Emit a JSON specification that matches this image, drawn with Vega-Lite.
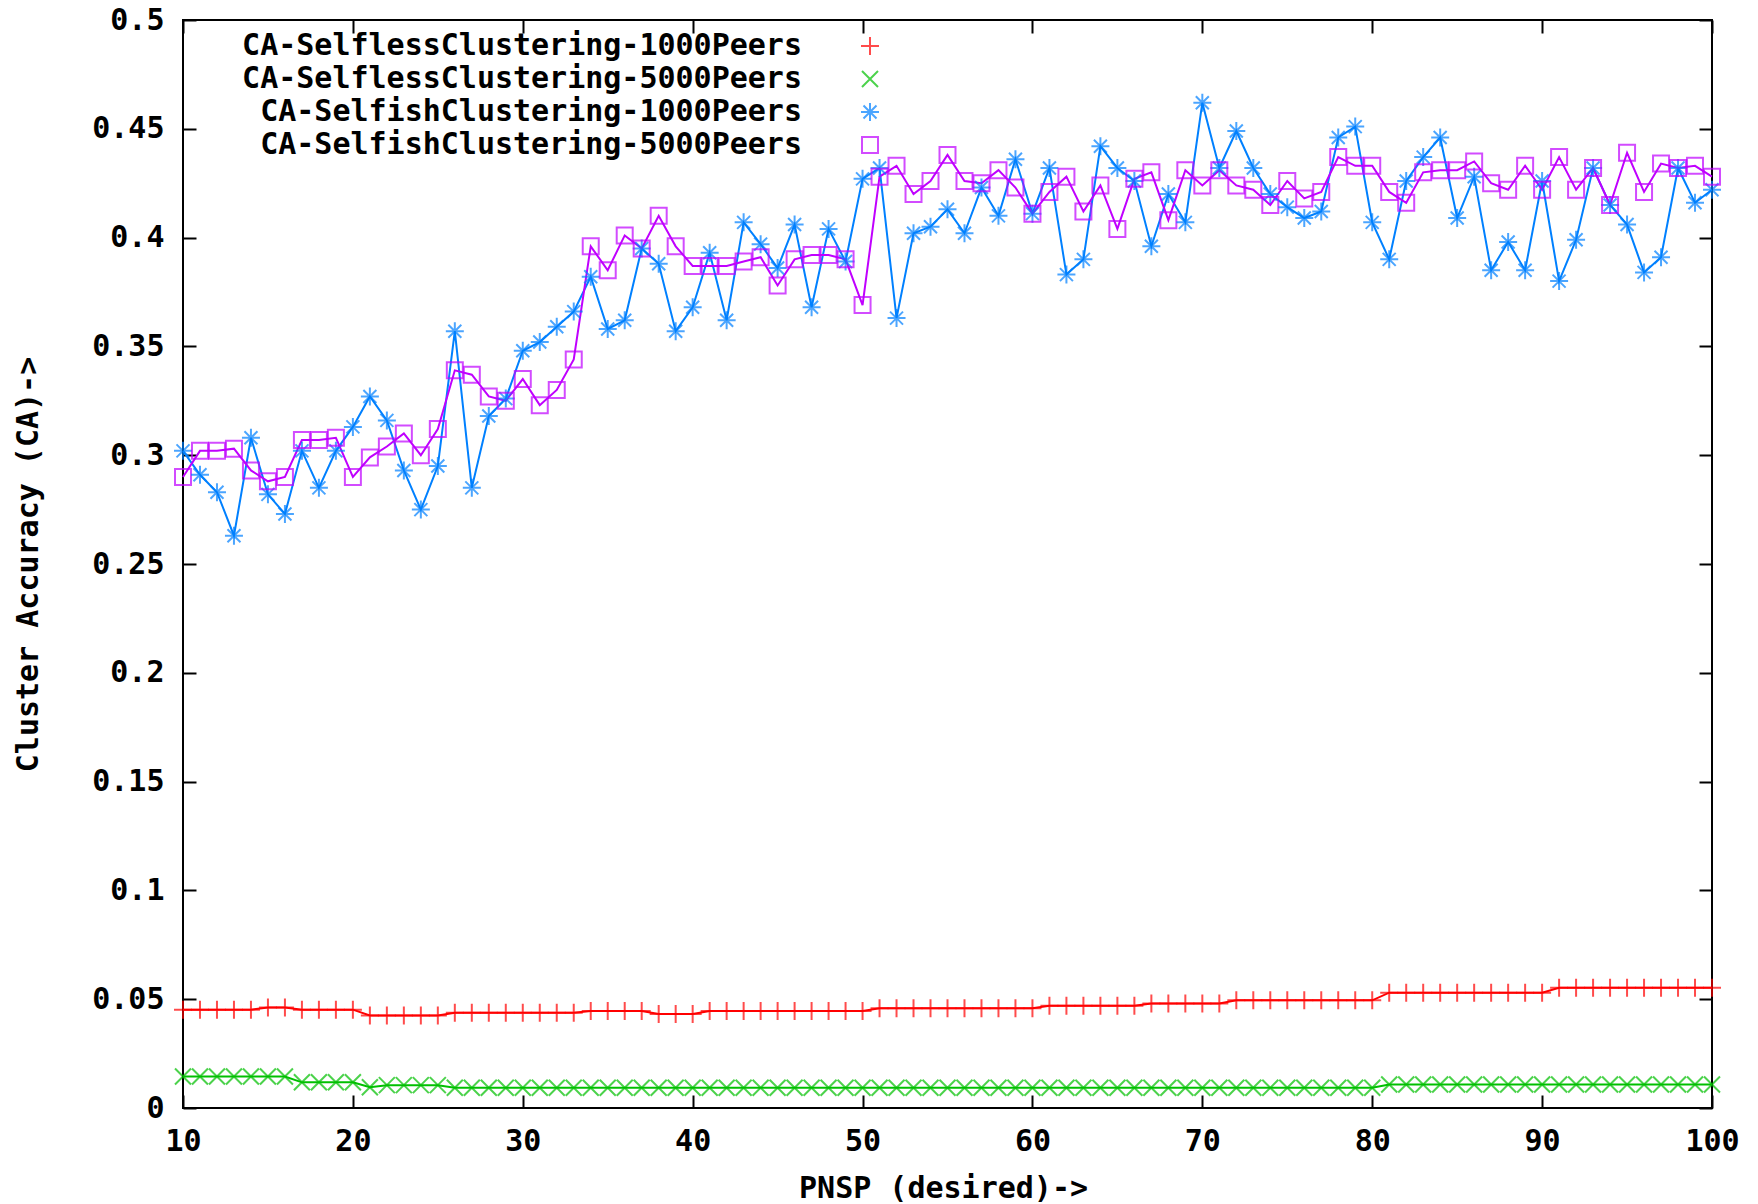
{
  "$schema": "https://vega.github.io/schema/vega-lite/v6.json",
  "width": 1529,
  "height": 1088,
  "autosize": {"type": "none"},
  "padding": {"left": 183, "top": 20, "right": 46, "bottom": 96},
  "background": "white",
  "config": {
    "view": {"stroke": "#000", "strokeWidth": 2},
    "font": "DejaVu Sans Mono"
  },
  "data": {
    "values": [
      {"x": 10, "r": 0.0452, "g": 0.0145, "b": 0.302, "m": 0.290},
      {"x": 11, "r": 0.0452, "g": 0.0145, "b": 0.291, "m": 0.302},
      {"x": 12, "r": 0.0452, "g": 0.0145, "b": 0.283, "m": 0.302},
      {"x": 13, "r": 0.0452, "g": 0.0145, "b": 0.263, "m": 0.303},
      {"x": 14, "r": 0.0452, "g": 0.0145, "b": 0.308, "m": 0.293},
      {"x": 15, "r": 0.0462, "g": 0.0145, "b": 0.282, "m": 0.288},
      {"x": 16, "r": 0.0462, "g": 0.0145, "b": 0.273, "m": 0.290},
      {"x": 17, "r": 0.0452, "g": 0.0118, "b": 0.302, "m": 0.307},
      {"x": 18, "r": 0.0452, "g": 0.0118, "b": 0.285, "m": 0.307},
      {"x": 19, "r": 0.0452, "g": 0.0118, "b": 0.302, "m": 0.308},
      {"x": 20, "r": 0.0452, "g": 0.0118, "b": 0.313, "m": 0.290},
      {"x": 21, "r": 0.0425, "g": 0.0095, "b": 0.327, "m": 0.299},
      {"x": 22, "r": 0.0425, "g": 0.0105, "b": 0.316, "m": 0.304},
      {"x": 23, "r": 0.0425, "g": 0.0105, "b": 0.293, "m": 0.310},
      {"x": 24, "r": 0.0425, "g": 0.0105, "b": 0.275, "m": 0.300},
      {"x": 25, "r": 0.0425, "g": 0.0105, "b": 0.295, "m": 0.312},
      {"x": 26, "r": 0.0438, "g": 0.0093, "b": 0.357, "m": 0.339},
      {"x": 27, "r": 0.0438, "g": 0.0093, "b": 0.285, "m": 0.337},
      {"x": 28, "r": 0.0438, "g": 0.0093, "b": 0.318, "m": 0.327},
      {"x": 29, "r": 0.0438, "g": 0.0093, "b": 0.326, "m": 0.325},
      {"x": 30, "r": 0.0438, "g": 0.0093, "b": 0.348, "m": 0.335},
      {"x": 31, "r": 0.0438, "g": 0.0093, "b": 0.352, "m": 0.323},
      {"x": 32, "r": 0.0438, "g": 0.0093, "b": 0.359, "m": 0.330},
      {"x": 33, "r": 0.0438, "g": 0.0093, "b": 0.366, "m": 0.344},
      {"x": 34, "r": 0.0446, "g": 0.0093, "b": 0.382, "m": 0.396},
      {"x": 35, "r": 0.0446, "g": 0.0093, "b": 0.358, "m": 0.385},
      {"x": 36, "r": 0.0446, "g": 0.0093, "b": 0.362, "m": 0.401},
      {"x": 37, "r": 0.0446, "g": 0.0093, "b": 0.395, "m": 0.395},
      {"x": 38, "r": 0.0432, "g": 0.0093, "b": 0.388, "m": 0.410},
      {"x": 39, "r": 0.0432, "g": 0.0093, "b": 0.357, "m": 0.396},
      {"x": 40, "r": 0.0432, "g": 0.0093, "b": 0.368, "m": 0.387},
      {"x": 41, "r": 0.0446, "g": 0.0093, "b": 0.393, "m": 0.387},
      {"x": 42, "r": 0.0446, "g": 0.0093, "b": 0.362, "m": 0.387},
      {"x": 43, "r": 0.0446, "g": 0.0093, "b": 0.407, "m": 0.389},
      {"x": 44, "r": 0.0446, "g": 0.0093, "b": 0.397, "m": 0.391},
      {"x": 45, "r": 0.0446, "g": 0.0093, "b": 0.386, "m": 0.378},
      {"x": 46, "r": 0.0446, "g": 0.0093, "b": 0.406, "m": 0.390},
      {"x": 47, "r": 0.0446, "g": 0.0093, "b": 0.368, "m": 0.392},
      {"x": 48, "r": 0.0446, "g": 0.0093, "b": 0.404, "m": 0.392},
      {"x": 49, "r": 0.0446, "g": 0.0093, "b": 0.389, "m": 0.390},
      {"x": 50, "r": 0.0446, "g": 0.0093, "b": 0.427, "m": 0.369},
      {"x": 51, "r": 0.0458, "g": 0.0093, "b": 0.432, "m": 0.428},
      {"x": 52, "r": 0.0458, "g": 0.0093, "b": 0.363, "m": 0.433},
      {"x": 53, "r": 0.0458, "g": 0.0093, "b": 0.402, "m": 0.420},
      {"x": 54, "r": 0.0458, "g": 0.0093, "b": 0.405, "m": 0.426},
      {"x": 55, "r": 0.0458, "g": 0.0093, "b": 0.413, "m": 0.438},
      {"x": 56, "r": 0.0458, "g": 0.0093, "b": 0.402, "m": 0.426},
      {"x": 57, "r": 0.0458, "g": 0.0093, "b": 0.423, "m": 0.425},
      {"x": 58, "r": 0.0458, "g": 0.0093, "b": 0.410, "m": 0.431},
      {"x": 59, "r": 0.0458, "g": 0.0093, "b": 0.436, "m": 0.423},
      {"x": 60, "r": 0.0458, "g": 0.0093, "b": 0.411, "m": 0.411},
      {"x": 61, "r": 0.0470, "g": 0.0093, "b": 0.432, "m": 0.421},
      {"x": 62, "r": 0.0470, "g": 0.0093, "b": 0.383, "m": 0.428},
      {"x": 63, "r": 0.0470, "g": 0.0093, "b": 0.390, "m": 0.412},
      {"x": 64, "r": 0.0470, "g": 0.0093, "b": 0.442, "m": 0.424},
      {"x": 65, "r": 0.0470, "g": 0.0093, "b": 0.432, "m": 0.404},
      {"x": 66, "r": 0.0470, "g": 0.0093, "b": 0.426, "m": 0.427},
      {"x": 67, "r": 0.0480, "g": 0.0093, "b": 0.396, "m": 0.430},
      {"x": 68, "r": 0.0480, "g": 0.0093, "b": 0.420, "m": 0.408},
      {"x": 69, "r": 0.0480, "g": 0.0093, "b": 0.407, "m": 0.431},
      {"x": 70, "r": 0.0480, "g": 0.0093, "b": 0.462, "m": 0.424},
      {"x": 71, "r": 0.0480, "g": 0.0093, "b": 0.432, "m": 0.431},
      {"x": 72, "r": 0.0495, "g": 0.0093, "b": 0.449, "m": 0.424},
      {"x": 73, "r": 0.0495, "g": 0.0093, "b": 0.432, "m": 0.422},
      {"x": 74, "r": 0.0495, "g": 0.0093, "b": 0.420, "m": 0.415},
      {"x": 75, "r": 0.0495, "g": 0.0093, "b": 0.414, "m": 0.426},
      {"x": 76, "r": 0.0495, "g": 0.0093, "b": 0.409, "m": 0.418},
      {"x": 77, "r": 0.0495, "g": 0.0093, "b": 0.412, "m": 0.421},
      {"x": 78, "r": 0.0495, "g": 0.0093, "b": 0.446, "m": 0.437},
      {"x": 79, "r": 0.0495, "g": 0.0093, "b": 0.451, "m": 0.433},
      {"x": 80, "r": 0.0495, "g": 0.0093, "b": 0.407, "m": 0.433},
      {"x": 81, "r": 0.0530, "g": 0.0108, "b": 0.390, "m": 0.421},
      {"x": 82, "r": 0.0530, "g": 0.0108, "b": 0.426, "m": 0.416},
      {"x": 83, "r": 0.0530, "g": 0.0108, "b": 0.437, "m": 0.430},
      {"x": 84, "r": 0.0530, "g": 0.0108, "b": 0.446, "m": 0.431},
      {"x": 85, "r": 0.0530, "g": 0.0108, "b": 0.409, "m": 0.431},
      {"x": 86, "r": 0.0530, "g": 0.0108, "b": 0.428, "m": 0.435},
      {"x": 87, "r": 0.0530, "g": 0.0108, "b": 0.385, "m": 0.425},
      {"x": 88, "r": 0.0530, "g": 0.0108, "b": 0.398, "m": 0.422},
      {"x": 89, "r": 0.0530, "g": 0.0108, "b": 0.385, "m": 0.433},
      {"x": 90, "r": 0.0530, "g": 0.0108, "b": 0.426, "m": 0.422},
      {"x": 91, "r": 0.0553, "g": 0.0108, "b": 0.380, "m": 0.437},
      {"x": 92, "r": 0.0553, "g": 0.0108, "b": 0.399, "m": 0.422},
      {"x": 93, "r": 0.0553, "g": 0.0108, "b": 0.432, "m": 0.432},
      {"x": 94, "r": 0.0553, "g": 0.0108, "b": 0.415, "m": 0.415},
      {"x": 95, "r": 0.0553, "g": 0.0108, "b": 0.406, "m": 0.439},
      {"x": 96, "r": 0.0553, "g": 0.0108, "b": 0.384, "m": 0.421},
      {"x": 97, "r": 0.0553, "g": 0.0108, "b": 0.391, "m": 0.434},
      {"x": 98, "r": 0.0553, "g": 0.0108, "b": 0.432, "m": 0.432},
      {"x": 99, "r": 0.0553, "g": 0.0108, "b": 0.416, "m": 0.433},
      {"x": 100, "r": 0.0553, "g": 0.0108, "b": 0.422, "m": 0.428}
    ]
  },
  "transform": [{"fold": ["r", "g", "b", "m"], "as": ["series", "y"]}],
  "layer": [
    {
      "mark": {"type": "line", "strokeWidth": 2},
      "encoding": {
        "x": {
          "field": "x", "type": "quantitative",
          "scale": {"domain": [10, 100], "nice": false, "zero": false},
          "axis": {
            "orient": "bottom", "values": [10, 20, 30, 40, 50, 60, 70, 80, 90, 100],
            "domain": false, "grid": false, "tickSize": -13, "tickWidth": 2, "tickColor": "#000",
            "labelFlush": false, "labelFont": "DejaVu Sans Mono", "labelFontSize": 30, "labelFontWeight": "bold",
            "labelColor": "#000", "labelBaseline": "middle", "labelPadding": 46,
            "title": "PNSP (desired)->", "titleFont": "DejaVu Sans Mono", "titleFontSize": 30, "titleFontWeight": "bold",
            "titleColor": "#000", "titleX": 760, "titleY": 80, "titleAlign": "center", "titleBaseline": "middle"
          }
        },
        "y": {
          "field": "y", "type": "quantitative",
          "scale": {"domain": [0, 0.5], "nice": false},
          "axis": {
            "orient": "left", "values": [0, 0.05, 0.1, 0.15, 0.2, 0.25, 0.3, 0.35, 0.4, 0.45, 0.5],
            "format": "~g",
            "domain": false, "grid": false, "tickSize": -13, "tickWidth": 2, "tickColor": "#000",
            "labelFlush": false, "labelFont": "DejaVu Sans Mono", "labelFontSize": 30, "labelFontWeight": "bold",
            "labelColor": "#000", "labelPadding": 32,
            "title": "Cluster Accuracy (CA)->", "titleFont": "DejaVu Sans Mono", "titleFontSize": 30, "titleFontWeight": "bold",
            "titleColor": "#000", "titleX": -155, "titleY": 544, "titleAngle": 270, "titleAlign": "center", "titleBaseline": "middle"
          }
        },
        "color": {
          "field": "series", "type": "nominal",
          "scale": {"domain": ["r", "g", "b", "m"], "range": ["#ff0000", "#00c000", "#0080ff", "#c000ff"]},
          "legend": {
            "title": null, "orient": "none", "legendX": 672, "legendY": 11,
            "labelAlign": "right", "labelOffset": -83,
            "labelFont": "DejaVu Sans Mono", "labelFontSize": 30, "labelFontWeight": "bold", "labelColor": "#000",
            "labelLimit": 1000, "symbolSize": 400, "symbolStrokeWidth": 2, "rowPadding": 3,
            "labelExpr": "datum.value == 'r' ? 'CA-SelflessClustering-1000Peers' : datum.value == 'g' ? 'CA-SelflessClustering-5000Peers' : datum.value == 'b' ? 'CA-SelfishClustering-1000Peers' : 'CA-SelfishClustering-5000Peers'"
          }
        }
      }
    },
    {
      "mark": {"type": "point", "filled": false, "size": 400, "strokeWidth": 2},
      "encoding": {
        "x": {
          "field": "x", "type": "quantitative",
          "scale": {"domain": [10, 100], "nice": false, "zero": false},
          "axis": {"orient": "top", "values": [10, 20, 30, 40, 50, 60, 70, 80, 90, 100], "labels": false, "title": null,
                   "domain": false, "grid": false, "tickSize": -13, "tickWidth": 2, "tickColor": "#000"}
        },
        "y": {
          "field": "y", "type": "quantitative",
          "scale": {"domain": [0, 0.5], "nice": false},
          "axis": {"orient": "right", "values": [0, 0.05, 0.1, 0.15, 0.2, 0.25, 0.3, 0.35, 0.4, 0.45, 0.5], "labels": false, "title": null,
                   "domain": false, "grid": false, "tickSize": -13, "tickWidth": 2, "tickColor": "#000"}
        },
        "color": {
          "field": "series", "type": "nominal"
        },
        "shape": {
          "field": "series", "type": "nominal",
          "scale": {"domain": ["r", "g", "b", "m"], "range": [
            "M-0.9,0H0.9M0,-0.9V0.9",
            "M-0.8,-0.8L0.8,0.8M-0.8,0.8L0.8,-0.8",
            "M-0.9,0H0.9M0,-0.9V0.9M-0.65,-0.65L0.65,0.65M-0.65,0.65L0.65,-0.65",
            "M-0.8,-0.8H0.8V0.8H-0.8Z"
          ]},
          "legend": null
        }
      }
    }
  ],
  "resolve": {"axis": {"x": "independent", "y": "independent"}}
}
